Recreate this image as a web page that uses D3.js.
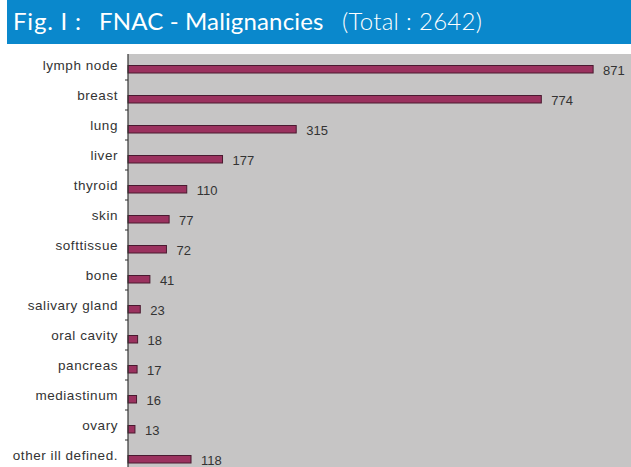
<!DOCTYPE html>
<html>
<head>
<meta charset="utf-8">
<script src="https://cdn.jsdelivr.net/npm/d3@7"></script>
<style>
  body { margin: 0; background: #fff; }
  svg { display: block; }
</style>
</head>
<body>
<svg width="631" height="467"></svg>
<script>
const categories = [
  "lymph node", "breast", "lung", "liver", "thyroid", "skin", "softtissue",
  "bone", "salivary gland", "oral cavity", "pancreas", "mediastinum", "ovary",
  "other ill defined."
];
const counts = [871, 774, 315, 177, 110, 77, 72, 41, 23, 18, 17, 16, 13, 118];
const titleParts = ["Fig. I :", "FNAC - Malignancies", "(Total : 2642)"];

const svg = d3.select("svg");
const width = +svg.attr("width");
const height = +svg.attr("height");

// header band
svg.append("rect")
  .attr("x", 7).attr("y", 0)
  .attr("width", width - 7).attr("height", 44)
  .attr("fill", "#0a88cc");

const titleX = [13, 99, 342];
const titleSpacing = [0.8, 0.15, 0.3];
const titleWeight = [400, 400, 300];
svg.selectAll("text.title")
  .data(titleParts)
  .join("text")
  .attr("class", "title")
  .attr("x", (d, i) => titleX[i])
  .attr("y", 30)
  .attr("fill", "#fff")
  .style("font-family", "Lato, 'Open Sans', sans-serif")
  .style("font-size", "24px")
  .style("letter-spacing", (d, i) => titleSpacing[i] + "px")
  .style("font-weight", (d, i) => titleWeight[i])
  .text((d) => d);

const plotLeft = 128;
const plotTop = 54;

svg.append("rect")
  .attr("x", plotLeft).attr("y", plotTop)
  .attr("width", width - plotLeft).attr("height", height - plotTop)
  .attr("fill", "#c6c5c5");

const xScale = d3.scaleLinear().domain([0, 1000]).range([plotLeft, plotLeft + 534]);
const yScale = d3.scaleBand().domain(categories).range([50, 50 + 30 * categories.length]);

const barH = 7.5;
const barOffset = 15.5;

const g = svg.append("g");

g.selectAll("rect.bar")
  .data(categories)
  .join("rect")
  .attr("class", "bar")
  .attr("x", xScale(0))
  .attr("y", (d) => yScale(d) + barOffset)
  .attr("width", (d, i) => xScale(counts[i]) - xScale(0))
  .attr("height", barH)
  .attr("fill", "#9b325f")
  .attr("stroke", "#4a1a30")
  .attr("stroke-width", 1);

g.selectAll("text.value")
  .data(categories)
  .join("text")
  .attr("class", "value")
  .attr("x", (d, i) => xScale(counts[i]) + 10)
  .attr("y", (d) => yScale(d) + barOffset + barH / 2 + 1)
  .attr("dy", "0.35em")
  .attr("fill", "#333")
  .style("font-family", "'Liberation Sans', Arial, sans-serif")
  .style("font-size", "13px")
  .text((d, i) => counts[i]);

// category axis
const yAxis = d3.axisLeft(yScale).tickSize(0).tickPadding(10);
const yAxisG = svg.append("g")
  .attr("transform", `translate(${plotLeft},0)`)
  .call(yAxis);
yAxisG.select(".domain").remove();
yAxisG.selectAll(".tick text")
  .attr("y", 1)
  .attr("fill", "#333")
  .style("font-family", "'Liberation Sans', Arial, sans-serif")
  .style("font-size", "13.5px")
  .style("letter-spacing", "0.55px");

// axis line and boundary ticks
svg.append("line")
  .attr("x1", plotLeft).attr("x2", plotLeft)
  .attr("y1", plotTop).attr("y2", height)
  .attr("stroke", "#333").attr("stroke-width", 1.2);
svg.selectAll("line.cat-tick")
  .data(categories.slice(1))
  .join("line")
  .attr("class", "cat-tick")
  .attr("x1", plotLeft - 3).attr("x2", plotLeft)
  .attr("y1", (d) => yScale(d)).attr("y2", (d) => yScale(d))
  .attr("stroke", "#333");
</script>
</body>
</html>
